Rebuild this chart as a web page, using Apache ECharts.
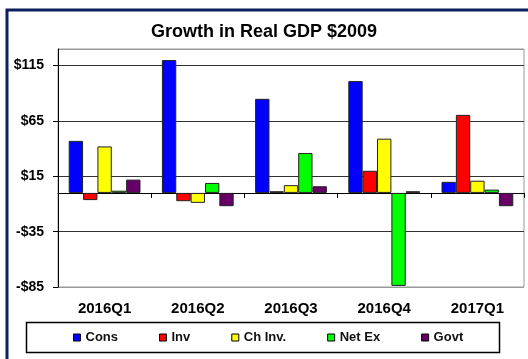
<!DOCTYPE html>
<html>
<head>
<meta charset="utf-8">
<title>Growth in Real GDP $2009</title>
<script src="https://cdn.jsdelivr.net/npm/echarts@6/dist/echarts.min.js"></script>
<style>
  html, body { margin: 0; padding: 0; background: #fff; }
  #chart { width: 528px; height: 359px; }
</style>
</head>
<body>
<div id="chart"></div>
<script>
// Quarterly contributions to real GDP growth, billions of 2009 dollars
const quarters = ['2016Q1', '2016Q2', '2016Q3', '2016Q4', '2017Q1'];
const cons   = [47, 120, 85, 101, 10];
const inv    = [-6.5, -7.5, 1.5, 20, 70.5];
const chInv  = [42, -9, 7, 49, 11];
const netEx  = [2, 9, 36, -84, 3];
const govt   = [12, -12, 6, 1.5, -12];

const seriesNames  = ['Cons', 'Inv', 'Ch Inv.', 'Net Ex', 'Govt'];
const seriesValues = [cons, inv, chInv, netEx, govt];
const seriesColors = ['#0000ff', '#ff0000', '#ffff00', '#00ff00', '#660066'];

const FONT = "'Liberation Sans', Arial, sans-serif";

const chart = echarts.init(document.getElementById('chart'), null, { renderer: 'canvas' });

const dollar = v => (v < 0 ? '-$' + Math.abs(v) : '$' + v);

chart.setOption({
  backgroundColor: '#ffffff',
  animation: false,
  textStyle: { fontFamily: FONT },
  title: {
    text: 'Growth in Real GDP $2009',
    left: 'center',
    top: 23,
    padding: 0,
    textStyle: { fontFamily: FONT, fontSize: 18, fontWeight: 'bold', color: '#000' }
  },
  graphic: [
    {
      type: 'rect', silent: true, z: -1,
      shape: { x: 7, y: 10, width: 540, height: 360 },
      style: { fill: 'none', stroke: '#0d1f5c', lineWidth: 3 }
    },
    {
      type: 'rect', silent: true,
      shape: { x: 26.5, y: 322.5, width: 473, height: 30 },
      style: { fill: 'none', stroke: '#000', lineWidth: 1.5 }
    }
  ],
  legend: {
    data: seriesNames,
    left: 73,
    top: 331,
    padding: 0,
    itemGap: 41,
    itemWidth: 7,
    itemHeight: 7,
    icon: 'rect',
    itemStyle: { borderColor: '#000', borderWidth: 1 },
    textStyle: { fontFamily: FONT, fontSize: 13, fontWeight: 'bold', color: '#111' }
  },
  grid: {
    left: 58, right: 4, top: 49, bottom: 72,
    show: true,
    backgroundColor: '#fff',
    borderColor: '#999',
    borderWidth: 1,
    outerBoundsMode: 'none'
  },
  xAxis: [
    {
      type: 'category',
      data: quarters,
      position: 'bottom',
      axisLine: { show: false, onZero: false },
      axisTick: { show: false },
      axisLabel: { margin: 14, fontFamily: FONT, fontSize: 15, fontWeight: 'bold', color: '#000' },
      splitLine: { show: false }
    },
    {
      // zero baseline with boundary ticks hanging below it
      type: 'category',
      data: quarters,
      position: 'top',
      axisLine: { show: true, onZero: true, lineStyle: { color: '#000', width: 1 } },
      axisTick: { show: true, inside: true, length: 5, lineStyle: { color: '#000' } },
      axisLabel: { show: false },
      splitLine: { show: false }
    }
  ],
  yAxis: {
    type: 'value',
    min: -85,
    max: 130,
    interval: 50,
    axisLine: { show: true, lineStyle: { color: '#000', width: 1 } },
    axisTick: { show: true, length: 5, lineStyle: { color: '#000' } },
    axisLabel: {
      margin: 14,
      showMaxLabel: false,
      fontFamily: FONT, fontSize: 14, fontWeight: 'bold', color: '#000',
      formatter: dollar
    },
    splitLine: {
      show: true,
      lineStyle: { color: ['#999', '#333', '#333', '#333', '#333', '#999'], width: 1 }
    }
  },
  series: seriesNames.map((name, i) => ({
    name: name,
    type: 'bar',
    xAxisIndex: 0,
    data: seriesValues[i],
    barGap: '0%',
    barCategoryGap: '23%',
    itemStyle: { color: seriesColors[i], borderColor: '#222', borderWidth: 1 }
  }))
});
</script>
</body>
</html>
